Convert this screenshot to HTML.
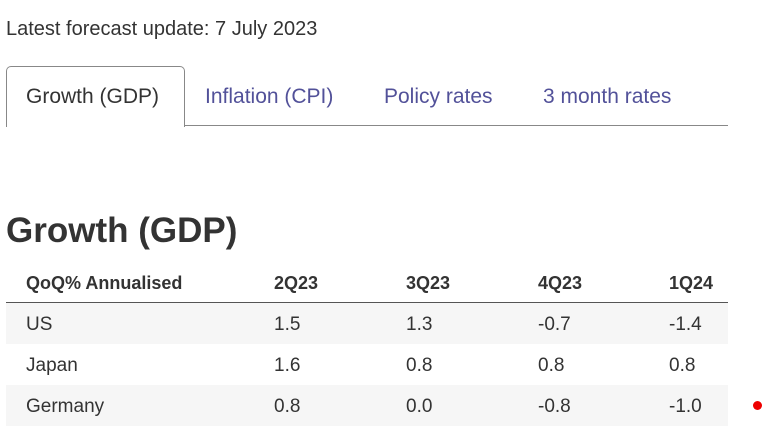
<!DOCTYPE html>
<html><head><meta charset="utf-8"><style>
body{margin:0;width:762px;height:426px;background:#fff;font-family:"Liberation Sans",sans-serif;color:#333;position:relative;overflow:hidden}
.a{position:absolute;white-space:nowrap}
.tab{font-size:21px;color:#525199;top:85px}
.row{position:absolute;left:6px;width:722px;height:41px}
.cell{position:absolute;font-size:19px;color:#333;top:11px}
.hd{font-weight:bold;font-size:18px;color:#333}
</style></head><body>
<div class="a" style="left:6px;top:18px;font-size:20px;color:#333">Latest forecast update: 7 July 2023</div>
<div style="position:absolute;left:6px;top:125px;width:722px;height:1px;background:#888"></div>
<div style="position:absolute;left:6px;top:66px;width:177px;height:60px;border:1px solid #888;border-bottom:none;border-radius:5px 5px 0 0;background:#fff"></div>
<div class="a tab" style="left:26px;color:#333">Growth (GDP)</div>
<div class="a tab" style="left:205px">Inflation (CPI)</div>
<div class="a tab" style="left:384px">Policy rates</div>
<div class="a tab" style="left:543px">3 month rates</div>
<div class="a" style="left:6px;top:211px;font-size:35px;font-weight:bold;color:#333">Growth (GDP)</div>
<div class="row" style="top:262px;border-bottom:1px solid #555;height:40px">
<div class="cell hd" style="left:20px">QoQ% Annualised</div>
<div class="cell hd" style="left:268px">2Q23</div>
<div class="cell hd" style="left:400px">3Q23</div>
<div class="cell hd" style="left:532px">4Q23</div>
<div class="cell hd" style="left:663px">1Q24</div>
</div>
<div class="row" style="top:303px;background:#f6f6f6">
<div class="cell" style="left:20px">US</div><div class="cell" style="left:268px">1.5</div><div class="cell" style="left:400px">1.3</div><div class="cell" style="left:532px">-0.7</div><div class="cell" style="left:663px">-1.4</div></div>
<div class="row" style="top:344px;background:#fff">
<div class="cell" style="left:20px">Japan</div><div class="cell" style="left:268px">1.6</div><div class="cell" style="left:400px">0.8</div><div class="cell" style="left:532px">0.8</div><div class="cell" style="left:663px">0.8</div></div>
<div class="row" style="top:385px;background:#f6f6f6">
<div class="cell" style="left:20px">Germany</div><div class="cell" style="left:268px">0.8</div><div class="cell" style="left:400px">0.0</div><div class="cell" style="left:532px">-0.8</div><div class="cell" style="left:663px">-1.0</div></div>
<div style="position:absolute;left:753px;top:401px;width:9px;height:9px;border-radius:50%;background:#e00"></div>
</body></html>
